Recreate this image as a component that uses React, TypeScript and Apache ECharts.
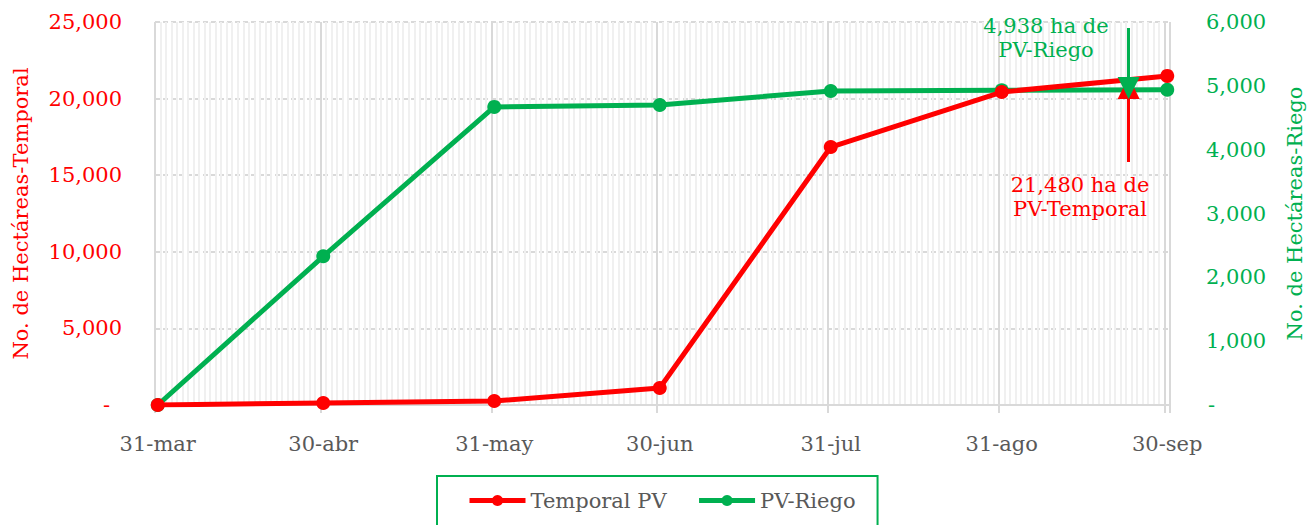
import React, { useEffect, useRef } from "react";
import * as echarts from "echarts";

// ---- data ----
const monthNames = ["ene", "feb", "mar", "abr", "may", "jun", "jul", "ago", "sep", "oct", "nov", "dic"];
const pointDates = ["31-mar", "30-abr", "31-may", "30-jun", "31-jul", "31-ago", "30-sep"];
const tickLabels = ["31-mar", "30-abr", "31-may", "30-jun", "31-jul", "31-ago", "30-sep"];
const temporalPV = [0, 130, 260, 1110, 16840, 20430, 21480];
const pvRiego = [0, 2330, 4670, 4700, 4920, 4930, 4938];
const arrowDate = "23-sep";
const arrowTemporal = [15860, 20700];
const arrowRiego = [5906, 4966];
const leftTicks = { min: 0, max: 25000, interval: 5000 };
const rightTicks = { min: 0, max: 6000, interval: 1000 };

// daily category axis (Excel date axis, base unit = days)
const days: string[] = [];
{
  const d = new Date(2024, 2, 31);
  const end = new Date(2024, 8, 30);
  while (d <= end) {
    days.push(`${d.getDate()}-${monthNames[d.getMonth()]}`);
    d.setDate(d.getDate() + 1);
  }
}
const majorIdx = tickLabels.map((t) => days.indexOf(t));

const RED = "#ff0000";
const GREEN = "#00b050";
const GRAY = "#595959";
const FONT = "DejaVu Serif";
const FS = 21;

const fmt = (v: number) => (v === 0 ? "{d|-}" : v.toLocaleString("en-US"));

export default function App() {
  const ref = useRef<HTMLDivElement>(null);
  useEffect(() => {
    document.body.style.margin = "0";
    const chart = echarts.init(ref.current!, undefined, { renderer: "svg" });
    chart.setOption({
      animation: false,
      textStyle: { fontFamily: FONT },
      grid: { left: 155, right: 137, top: 22, height: 383, containLabel: false },
      legend: {
        left: 437,
        top: 476,
        orient: "horizontal",
        borderColor: GREEN,
        borderWidth: 2,
        padding: [14, 22, 25, 30],
        itemWidth: 56,
        itemHeight: 14,
        itemGap: 30,
        lineStyle: { width: 5 },
        textStyle: { fontSize: FS, color: GRAY, fontFamily: FONT },
        data: ["Temporal PV", "PV-Riego"],
      },
      xAxis: [
        {
          type: "category",
          data: days,
          boundaryGap: true,
          axisLine: { lineStyle: { color: "#d9d9d9", width: 2 } },
          axisTick: {
            show: true,
            length: 8,
            interval: (i: number) => majorIdx.includes(i),
            lineStyle: { color: "#d9d9d9", width: 2 },
          },
          axisLabel: {
            interval: (i: number) => majorIdx.includes(i),
            color: GRAY,
            fontSize: FS,
            fontFamily: FONT,
            margin: 28,
          },
          splitLine: { show: true, interval: 0, lineStyle: { color: "#f0f0f0", width: 2 } },
        },
        {
          type: "category",
          data: days,
          boundaryGap: true,
          position: "bottom",
          axisLine: { show: false },
          axisTick: { show: false },
          axisLabel: { show: false },
          splitLine: {
            show: true,
            interval: (i: number) => majorIdx.includes(i),
            lineStyle: { color: "#d9d9d9", width: 2 },
          },
        },
      ],
      yAxis: [
        {
          type: "value",
          ...leftTicks,
          position: "left",
          name: "No. de Hectáreas-Temporal",
          nameLocation: "middle",
          nameGap: 124,
          nameTextStyle: { color: RED, fontSize: FS, fontFamily: FONT },
          axisLine: { show: false },
          axisTick: { show: false },
          axisLabel: {
            color: RED,
            fontSize: FS,
            fontFamily: FONT,
            margin: 33,
            formatter: fmt,
            rich: { d: { color: RED, fontSize: FS, fontFamily: FONT, padding: [0, 12, 0, 0] } },
          },
          splitLine: { show: true, lineStyle: { color: "#d9d9d9", type: [5, 3], width: 2 } },
        },
        {
          type: "value",
          ...rightTicks,
          position: "right",
          name: "No. de Hectáreas-Riego",
          nameLocation: "middle",
          nameGap: 114,
          nameTextStyle: { color: GREEN, fontSize: FS, fontFamily: FONT },
          axisLine: { show: false },
          axisTick: { show: false },
          axisLabel: {
            color: GREEN,
            fontSize: FS,
            fontFamily: FONT,
            margin: 36,
            formatter: fmt,
            rich: { d: { color: GREEN, fontSize: FS, fontFamily: FONT, padding: [0, 0, 0, 2] } },
          },
          splitLine: { show: false },
        },
      ],
      series: [
        {
          name: "Temporal PV",
          type: "line",
          xAxisIndex: 0,
          yAxisIndex: 0,
          data: pointDates.map((d, i) => [d, temporalPV[i]]),
          symbol: "circle",
          symbolSize: 14,
          lineStyle: { color: RED, width: 5 },
          itemStyle: { color: RED },
          z: 3,
          markLine: {
            silent: true,
            z: 10,
            symbol: ["none", "triangle"],
            symbolSize: [22, 22],
            label: { show: false },
            lineStyle: { color: RED, width: 3, type: "solid" },
            data: [[{ coord: [arrowDate, arrowTemporal[0]] }, { coord: [arrowDate, arrowTemporal[1]] }]],
          },
        },
        {
          name: "PV-Riego",
          type: "line",
          xAxisIndex: 0,
          yAxisIndex: 1,
          data: pointDates.map((d, i) => [d, pvRiego[i]]),
          symbol: "circle",
          symbolSize: 14,
          lineStyle: { color: GREEN, width: 5 },
          itemStyle: { color: GREEN },
          z: 2,
          markLine: {
            silent: true,
            z: 10,
            symbol: ["none", "triangle"],
            symbolSize: [22, 22],
            label: { show: false },
            lineStyle: { color: GREEN, width: 3, type: "solid" },
            data: [[{ coord: [arrowDate, arrowRiego[0]] }, { coord: [arrowDate, arrowRiego[1]] }]],
          },
        },
      ],
      graphic: [
        {
          type: "text",
          x: 1046,
          y: 38,
          style: {
            text: "4,938 ha de\nPV-Riego",
            fill: GREEN,
            font: `${FS}px '${FONT}'`,
            textAlign: "center",
            textVerticalAlign: "middle",
            lineHeight: 24,
          },
          z: 10,
        },
        {
          type: "text",
          x: 1080,
          y: 197,
          style: {
            text: "21,480 ha de\nPV-Temporal",
            fill: RED,
            font: `${FS}px '${FONT}'`,
            textAlign: "center",
            textVerticalAlign: "middle",
            lineHeight: 24,
          },
          z: 10,
        },
      ],
    });
    return () => chart.dispose();
  }, []);
  return (
    <div
      ref={ref}
      style={{ position: "absolute", left: 0, top: 0, width: 1313, height: 525, background: "#fff" }}
    />
  );
}
